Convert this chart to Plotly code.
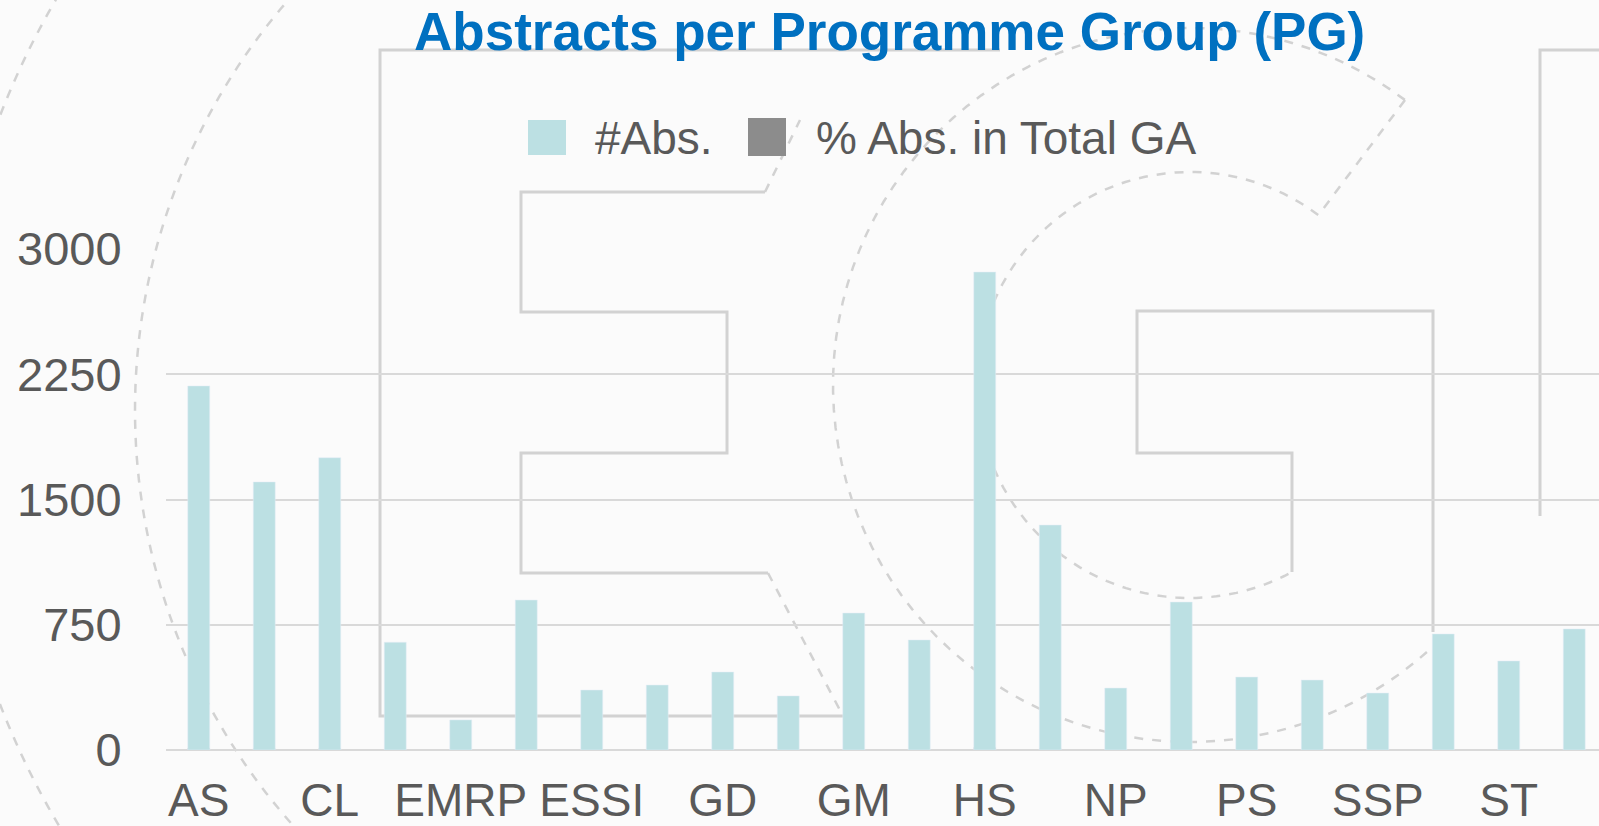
import math
import plotly.graph_objects as go

# ---------------- data ----------------
groups = ["AS", "BG", "CL", "CR", "EMRP", "ERE", "ESSI", "G", "GD", "GI", "GM",
          "GMPV", "HS", "NH", "NP", "OS", "PS", "SM", "SSP", "SSS", "ST", "TS"]
abstracts = [2180, 1605, 1750, 645, 180, 898, 359, 389, 467, 324, 820,
             659, 2862, 1347, 371, 886, 437, 419, 341, 695, 533, 725]
pct_total = [11.5, 8.5, 9.3, 3.4, 1.0, 4.8, 1.9, 2.1, 2.5, 1.7, 4.3,
             3.5, 15.1, 7.1, 2.0, 4.7, 2.3, 2.2, 1.8, 3.7, 2.8, 3.8]
tick_labels = groups[0::2]
y_ticks = [0, 750, 1500, 2250, 3000]
series_names = ["#Abs.", "% Abs. in Total GA"]
title_text = "Abstracts per Programme Group (PG)"

# ---------------- style ----------------
W, H = 1599, 826
L, R, T, B = 166, 1599, 249, 750      # plot area in pixels
PW, PH = R - L, B - T
CAT_PX = 65.5
FONT = "Liberation Sans, Arial, Helvetica, sans-serif"
TXT = "#595959"
CYAN = "#bce0e3"
GREY = "#8c8c8c"
BLUE = "#0070c0"
WM = "#d2d2d2"


def X(p):
    return (p - L) / PW


def Y(p):
    return (B - p) / PH


fig = go.Figure()
fig.add_trace(go.Bar(x=groups, y=pct_total, name=series_names[1], marker_color=GREY,
                     width=0.335, showlegend=False))
fig.add_trace(go.Bar(x=groups, y=abstracts, name=series_names[0], marker_color=CYAN,
                     width=0.335, showlegend=False))

# ---------------- watermark (decorative logo outline) ----------------
shapes = []


def poly(pts, dash="solid", width=3):
    d = "M " + " L ".join(f"{X(a):.5f},{Y(b):.5f}" for a, b in pts)
    shapes.append(dict(type="path", path=d, xref="paper", yref="paper", layer="below",
                       line=dict(color=WM, width=width, dash=dash)))


def arc(cx, cy, r, a0, a1, n=90):
    return [(cx + r * math.cos(math.radians(a0 + (a1 - a0) * i / n)),
             cy + r * math.sin(math.radians(a0 + (a1 - a0) * i / n))) for i in range(n + 1)]


poly([(1000, 50), (380, 50), (380, 716), (843, 716)])
poly([(765, 192), (521, 192), (521, 312), (727, 312), (727, 453), (521, 453), (521, 573), (768, 573)])
poly([(768, 573), (843, 716)], dash="dash", width=2.5)
poly([(765, 192), (800, 120)], dash="dash", width=2.5)
poly([(1433, 632), (1433, 311), (1137, 311), (1137, 453), (1292, 453), (1292, 572)])
poly([(1599, 50), (1540, 50), (1540, 516)])
poly(arc(1190, 385, 357, -53, -315), dash="dash", width=2.5)
poly(arc(1190, 385, 213, -53, -299), dash="dash", width=2.5)
poly([(1405, 100), (1320, 213)], dash="dash", width=2.5)
poly(arc(760, 410, 625, 222, 125), dash="dash", width=2.5)
poly(arc(760, 410, 815, 212, 148), dash="dash", width=2.5)
poly(arc(1900, 300, 370, 143, 108), dash="dash", width=2.5)

# ---------------- manual legend ----------------
shapes.append(dict(type="rect", xref="paper", yref="paper", x0=X(528), x1=X(566), y0=Y(155), y1=Y(120),
                   fillcolor=CYAN, line=dict(width=0)))
shapes.append(dict(type="rect", xref="paper", yref="paper", x0=X(748), x1=X(786), y0=Y(156), y1=Y(118),
                   fillcolor=GREY, line=dict(width=0)))

annotations = [
    dict(text=series_names[0], x=X(593), y=Y(138), xref="paper", yref="paper", xanchor="left",
         yanchor="middle", showarrow=False, font=dict(family=FONT, size=46, color=TXT)),
    dict(text=series_names[1], x=X(814), y=Y(138), xref="paper", yref="paper", xanchor="left",
         yanchor="middle", showarrow=False, font=dict(family=FONT, size=46, color=TXT)),
    dict(text=f"<b>{title_text}</b>", x=X(889), y=Y(31), xref="paper", yref="paper",
         xanchor="center", yanchor="middle", showarrow=False,
         font=dict(family=FONT, size=53, color=BLUE)),
]

fig.update_layout(
    width=W, height=H, autosize=False,
    margin=dict(l=L, r=W - R, t=T, b=H - B, pad=0, autoexpand=False),
    paper_bgcolor="#fbfbfb", plot_bgcolor="rgba(0,0,0,0)",
    barmode="overlay", showlegend=False,
    shapes=shapes, annotations=annotations,
    font=dict(family=FONT, color=TXT),
)
fig.update_xaxes(range=[-0.5, -0.5 + PW / CAT_PX], tickmode="array", tickvals=tick_labels,
                 ticktext=tick_labels, tickfont=dict(size=46, color=TXT, family=FONT),
                 ticks="outside", ticklen=10, tickcolor="rgba(0,0,0,0)", showgrid=False,
                 showline=False, zeroline=False, automargin=False)
fig.update_yaxes(range=[0, 3000], tickmode="array", tickvals=y_ticks,
                 tickfont=dict(size=47, color=TXT, family=FONT),
                 ticks="outside", ticklen=34, tickcolor="rgba(0,0,0,0)",
                 showgrid=True, gridcolor="#d9d9d9", gridwidth=2,
                 zeroline=True, zerolinecolor="#d9d9d9", zerolinewidth=2, showline=False,
                 automargin=False)

fig.write_html("out.html", config={"displayModeBar": False},
               post_script="document.body.style.margin='0';document.body.style.overflow='hidden';")
